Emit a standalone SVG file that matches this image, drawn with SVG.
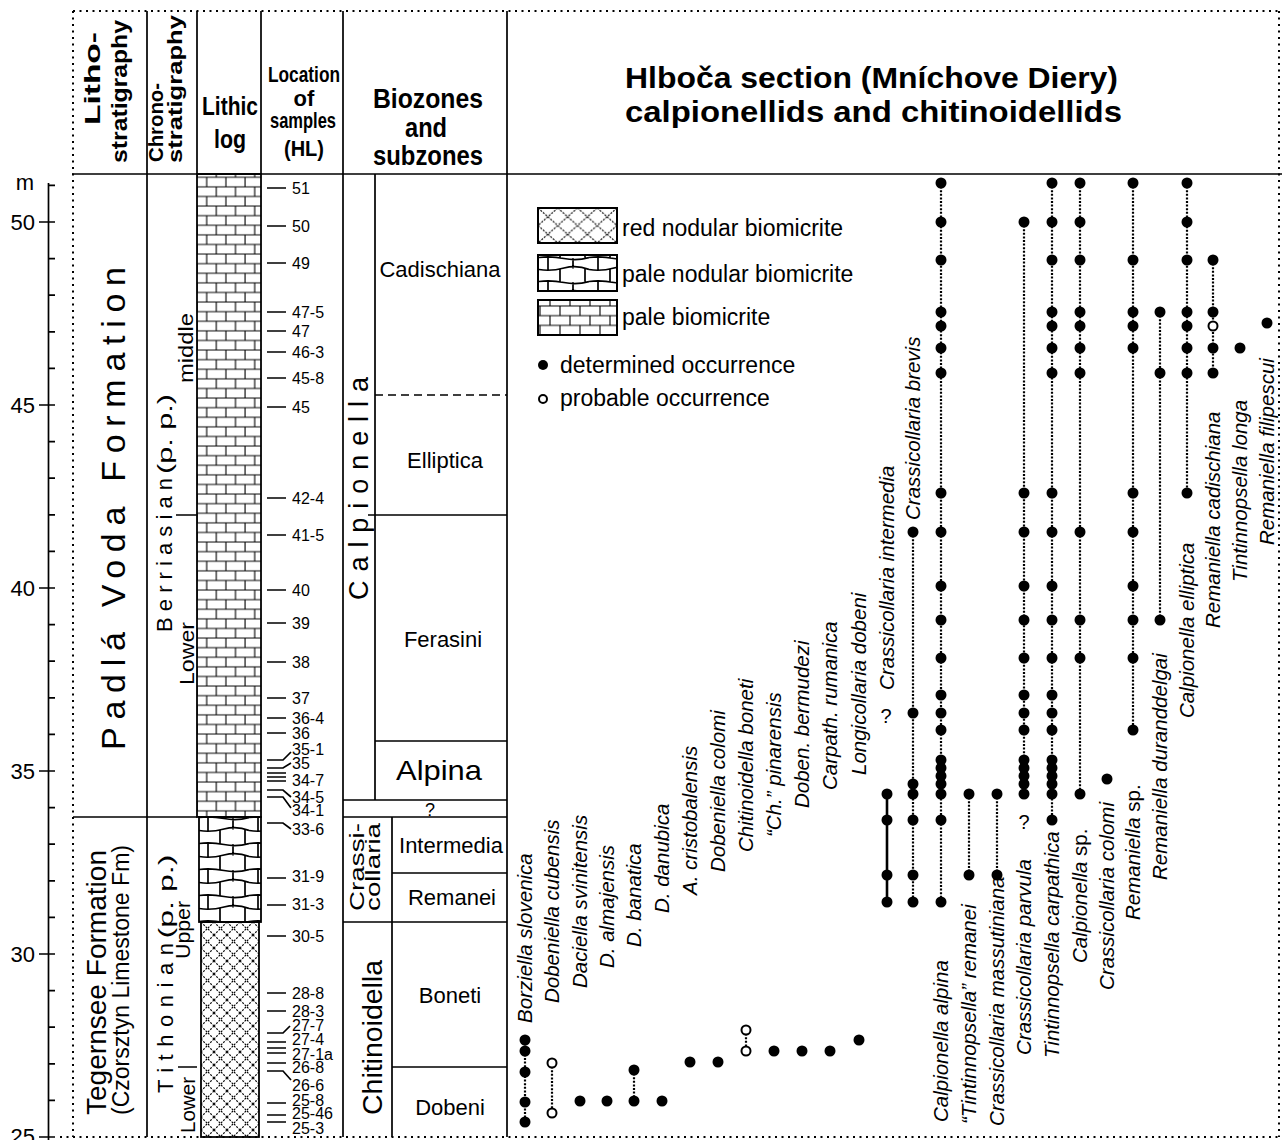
<svg xmlns="http://www.w3.org/2000/svg" width="1282" height="1140" viewBox="0 0 1282 1140">
<style>
text{font-family:"Liberation Sans",Arial,Helvetica,sans-serif;fill:#000}
.b{font-weight:bold}
.n{font-style:normal}
.ln{stroke:#000;stroke-width:1.7;fill:none}
.fr{stroke:#000;stroke-width:2;stroke-dasharray:2 4.5;fill:none}
.oc{stroke:#000;stroke-width:2.2;stroke-dasharray:2 1.6;fill:none}
.os{stroke:#000;stroke-width:2.6;fill:none}
.d{fill:#000}
.o{fill:#fff;stroke:#000;stroke-width:2}
.sp{font-size:20.5px;font-style:italic}
.sm{font-size:16px}
.zn{font-size:22px}
.lg{font-size:23px}
</style>
<defs>
<pattern id="brick" patternUnits="userSpaceOnUse" x="186.5" y="176.3" width="19.2" height="19.2"><path d="M0 1H19.2M0 10.6H19.2M1 1V10.6M10.6 10.6V19.2M10.6 0V1" stroke="#000" stroke-width="1.1" fill="none"/></pattern>
<pattern id="brick2" patternUnits="userSpaceOnUse" x="539" y="305" width="20" height="19.4"><path d="M0 1H20M0 10.7H20M1 1V10.7M11 10.7V19.4M11 0V1" stroke="#000" stroke-width="1.1" fill="none"/></pattern>
<pattern id="nod" patternUnits="userSpaceOnUse" x="199" y="816" width="50" height="26"><path d="M0 1.5Q12 0 25 2.5T50 1.5M0 14.5Q12 16.5 25 13T50 14.5M9 1.8V14.5M34 2.3V13.5M21 14V26M46 14V26M21 0V1.5M46 0V1.5" stroke="#000" stroke-width="1.7" fill="none"/></pattern>
<pattern id="nod2" patternUnits="userSpaceOnUse" x="539" y="256" width="50" height="24"><path d="M0 1.5Q12 0 25 2.5T50 1.5M0 13.5Q12 15.5 25 12T50 13.5M9 1.8V13.5M34 2.3V12.5M21 13V24M46 13V24M21 0V1.5M46 0V1.5" stroke="#000" stroke-width="1.7" fill="none"/></pattern>
<pattern id="xh" patternUnits="userSpaceOnUse" x="201" y="922" width="13" height="13"><path d="M0 0L13 13M13 0L0 13" stroke="#000" stroke-width="1.1" stroke-dasharray="2 1.3" fill="none"/></pattern>
<pattern id="xh2" patternUnits="userSpaceOnUse" x="538" y="208" width="19.75" height="17.5"><path d="M0 0L19.75 17.5M19.75 0L0 17.5" stroke="#000" stroke-width="1.1" stroke-dasharray="2 1.3" fill="none"/></pattern>
</defs>
<rect width="1282" height="1140" fill="#fff"/>

<g id="frame">
<path class="fr" d="M73 11H1280M73 11V1137M1279 11V1137M60 1137H1280"/>
<path class="ln" d="M72 174H1282M147 11V1137M197 11V174M261 11V174M343 11V1137M507 11V1137"/>
</g>

<g id="title">
<text class="b" x="625" y="88" font-size="29" textLength="493" lengthAdjust="spacingAndGlyphs">Hlboča section (Mníchove Diery)</text>
<text class="b" x="625" y="122" font-size="29" textLength="497" lengthAdjust="spacingAndGlyphs">calpionellids and chitinoidellids</text>
</g>

<g id="headers">
<text class="b" font-size="22" text-anchor="middle" transform="translate(100,78.5) rotate(-90)" textLength="93" lengthAdjust="spacingAndGlyphs">Litho-</text>
<text class="b" font-size="22" text-anchor="middle" transform="translate(127,91.5) rotate(-90)" textLength="143" lengthAdjust="spacingAndGlyphs">stratigraphy</text>
<text class="b" font-size="21" text-anchor="middle" transform="translate(163,122.5) rotate(-90)" textLength="79" lengthAdjust="spacingAndGlyphs">Chrono-</text>
<text class="b" font-size="21" text-anchor="middle" transform="translate(182,89) rotate(-90)" textLength="148" lengthAdjust="spacingAndGlyphs">stratigraphy</text>
<text class="b" font-size="25" x="230" y="115" text-anchor="middle" textLength="56" lengthAdjust="spacingAndGlyphs">Lithic</text>
<text class="b" font-size="25" x="230" y="148" text-anchor="middle" textLength="32" lengthAdjust="spacingAndGlyphs">log</text>
<text class="b" font-size="22" x="304" y="82" text-anchor="middle" textLength="72" lengthAdjust="spacingAndGlyphs">Location</text>
<text class="b" font-size="22" x="304" y="106" text-anchor="middle">of</text>
<text class="b" font-size="22" x="303" y="128" text-anchor="middle" textLength="66" lengthAdjust="spacingAndGlyphs">samples</text>
<text class="b" font-size="22" x="304" y="156" text-anchor="middle" textLength="40" lengthAdjust="spacingAndGlyphs">(HL)</text>
<text class="b" font-size="28" x="428" y="108" text-anchor="middle" textLength="110" lengthAdjust="spacingAndGlyphs">Biozones</text>
<text class="b" font-size="28" x="426" y="137" text-anchor="middle" textLength="42" lengthAdjust="spacingAndGlyphs">and</text>
<text class="b" font-size="28" x="428" y="165" text-anchor="middle" textLength="110" lengthAdjust="spacingAndGlyphs">subzones</text>
</g>

<g id="scale">
<path class="ln" d="M48.5 183V1140M48.5 185.4H55"/>
<path class="ln" d="M39 222H55M48.5 258.6H55M48.5 295.2H55M48.5 331.8H55M48.5 368.4H55M39 405H55M48.5 441.6H55M48.5 478.2H55M48.5 514.8H55M48.5 551.4H55M39 588H55M48.5 624.6H55M48.5 661.2H55M48.5 697.8H55M48.5 734.4H55M39 771H55M48.5 807.6H55M48.5 844.2H55M48.5 880.8H55M48.5 917.4H55M39 954H55M48.5 990.6H55M48.5 1027.2H55M48.5 1063.8H55M48.5 1100.4H55M39 1137H55"/>
<text font-size="22" x="34" y="190" text-anchor="end">m</text>
<text font-size="22" x="35" y="230" text-anchor="end">50</text>
<text font-size="22" x="35" y="413" text-anchor="end">45</text>
<text font-size="22" x="35" y="596" text-anchor="end">40</text>
<text font-size="22" x="35" y="779" text-anchor="end">35</text>
<text font-size="22" x="35" y="962" text-anchor="end">30</text>
<text font-size="22" x="35" y="1144" text-anchor="end">25</text>
</g>

<g id="lithostratigraphy">
<path class="ln" d="M73 817H197"/>
<text font-size="34" text-anchor="middle" transform="translate(125,508.5) rotate(-90)" textLength="483" lengthAdjust="spacing">Padlá Voda Formation</text>
<text font-size="27" text-anchor="middle" transform="translate(106,982.5) rotate(-90)" textLength="265" lengthAdjust="spacingAndGlyphs">Tegernsee Formation</text>
<text font-size="23" text-anchor="middle" transform="translate(129,980) rotate(-90)" textLength="270" lengthAdjust="spacingAndGlyphs">(Czorsztyn Limestone Fm)</text>
</g>

<g id="chronostratigraphy">
<path class="ln" d="M176 515H197M178 1067H197"/>
<text font-size="22" text-anchor="middle" transform="translate(172,555) rotate(-90)" textLength="154" lengthAdjust="spacing">Berriasian</text>
<text font-size="21" text-anchor="middle" transform="translate(172,434) rotate(-90)" textLength="80" lengthAdjust="spacingAndGlyphs">(p. p.)</text>
<text font-size="20" text-anchor="middle" transform="translate(193,348) rotate(-90)" textLength="70" lengthAdjust="spacingAndGlyphs">middle</text>
<text font-size="20" text-anchor="middle" transform="translate(194,653.5) rotate(-90)" textLength="63" lengthAdjust="spacingAndGlyphs">Lower</text>
<text font-size="22" text-anchor="middle" transform="translate(173,1018) rotate(-90)" textLength="150" lengthAdjust="spacing">Tithonian</text>
<text font-size="21" text-anchor="middle" transform="translate(173,896.5) rotate(-90)" textLength="84" lengthAdjust="spacingAndGlyphs">(p. p.)</text>
<text font-size="20" text-anchor="middle" transform="translate(190,930) rotate(-90)" textLength="58" lengthAdjust="spacingAndGlyphs">Upper</text>
<text font-size="20" text-anchor="middle" transform="translate(195,1105) rotate(-90)" textLength="56" lengthAdjust="spacingAndGlyphs">Lower</text>
</g>

<g id="lithic-log">
<rect x="197" y="174" width="64" height="643" fill="url(#brick)" stroke="#000" stroke-width="1.8"/>
<rect x="199" y="817" width="62" height="105" fill="url(#nod)" stroke="#000" stroke-width="1.8"/>
<rect x="201" y="922" width="58" height="215" fill="url(#xh)" stroke="#000" stroke-width="1.8"/>
</g>

<g id="samples">
<path class="ln" stroke-width="1.3" d="M267 188H286M267 226H286M267 263H286M267 312H286M267 331H286M267 352H286M267 378H286M267 407H286M267 498H286M267 535H286M267 590H286M267 623H286M267 662H286M267 698H286M267 718H286M267 733H286M267 760H283L291 752M267 768H283L291 763M267 773H286M267 777H286M267 781H286M267 790H283L291 797M267 797H283L291 808M267 823H283L291 829M267 878H286M267 905H286M267 936H286M267 993H286M267 1011H286M267 1033H283L290 1026M267 1042H286M267 1048H286M267 1053H286M267 1063H286M267 1071H283L291 1080M267 1103H286M267 1115H286M267 1122H286"/>
<g class="sm">
<text x="292" y="194">51</text>
<text x="292" y="232">50</text>
<text x="292" y="269">49</text>
<text x="292" y="318">47-5</text>
<text x="292" y="337">47</text>
<text x="292" y="358">46-3</text>
<text x="292" y="384">45-8</text>
<text x="292" y="413">45</text>
<text x="292" y="504">42-4</text>
<text x="292" y="541">41-5</text>
<text x="292" y="596">40</text>
<text x="292" y="629">39</text>
<text x="292" y="668">38</text>
<text x="292" y="704">37</text>
<text x="292" y="724">36-4</text>
<text x="292" y="739">36</text>
<text x="292" y="755">35-1</text>
<text x="292" y="769">35</text>
<text x="292" y="786">34-7</text>
<text x="292" y="803">34-5</text>
<text x="292" y="816">34-1</text>
<text x="292" y="835">33-6</text>
<text x="292" y="882">31-9</text>
<text x="292" y="910">31-3</text>
<text x="292" y="942">30-5</text>
<text x="292" y="999">28-8</text>
<text x="292" y="1017">28-3</text>
<text x="292" y="1031">27-7</text>
<text x="292" y="1045">27-4</text>
<text x="292" y="1060">27-1a</text>
<text x="292" y="1073">26-8</text>
<text x="292" y="1091">26-6</text>
<text x="292" y="1106">25-8</text>
<text x="292" y="1119">25-46</text>
<text x="292" y="1134">25-3</text>
</g>
</g>

<g id="biozones">
<path class="ln" d="M375 174V800M392 817V1137M368 515H507M375 741H507M343 800H507M343 817H507M392 873H507M343 922H507M392 1067H507"/>
<path class="ln" stroke-dasharray="8 5" d="M375 395H507"/>
<text font-size="27" text-anchor="middle" transform="translate(368,488.5) rotate(-90)" textLength="223" lengthAdjust="spacing">Calpionella</text>
<text font-size="20" text-anchor="middle" transform="translate(364,867) rotate(-90)" textLength="88" lengthAdjust="spacingAndGlyphs">Crassi-</text>
<text font-size="20" text-anchor="middle" transform="translate(380,867) rotate(-90)" textLength="88" lengthAdjust="spacingAndGlyphs">collaria</text>
<text font-size="27" text-anchor="middle" transform="translate(382,1037.5) rotate(-90)" textLength="155" lengthAdjust="spacingAndGlyphs">Chitinoidella</text>
<g class="zn" text-anchor="middle">
<text x="440" y="277">Cadischiana</text>
<text x="445" y="468">Elliptica</text>
<text x="443" y="647">Ferasini</text>
<text x="439" y="780" font-size="28" textLength="86" lengthAdjust="spacingAndGlyphs">Alpina</text>
<text x="430" y="816" font-size="18">?</text>
<text x="451" y="853">Intermedia</text>
<text x="452" y="905">Remanei</text>
<text x="450" y="1003">Boneti</text>
<text x="450" y="1115">Dobeni</text>
</g>
</g>

<g id="legend">
<rect x="538" y="208" width="79" height="35" fill="url(#xh2)" stroke="#000" stroke-width="2"/>
<rect x="538" y="255" width="79" height="36" fill="url(#nod2)" stroke="#000" stroke-width="2"/>
<rect x="538" y="300" width="79" height="35" fill="url(#brick2)" stroke="#000" stroke-width="2"/>
<text class="lg" x="622" y="236">red nodular biomicrite</text>
<text class="lg" x="622" y="282">pale nodular biomicrite</text>
<text class="lg" x="622" y="325">pale biomicrite</text>
<circle class="d" cx="543" cy="365" r="5"/>
<circle class="o" cx="543" cy="399" r="4" stroke-width="1.8"/>
<text class="lg" x="560" y="373">determined occurrence</text>
<text class="lg" x="560" y="406">probable occurrence</text>
</g>

<g id="ranges">
<path class="oc" d="M525 1040V1122M552 1063V1113M634 1070V1101M746 1030V1051M913 532V902M941 183V902M969 794V875M997 794V875M1024 222V794M1052 183V820M1080 183V794M1133 183V730M1160 312V620M1187 183V493M1213 260V373"/>
<path class="os" d="M887 794V902"/>
</g>

<g id="chitinoidellids">
<g id="sp-borziella-slovenica"><circle class="d" cx="525" cy="1040" r="5.5"/><circle class="d" cx="525" cy="1051" r="5.5"/><circle class="d" cx="525" cy="1072" r="5.5"/><circle class="d" cx="525" cy="1102" r="5.5"/><circle class="d" cx="525" cy="1122" r="5.5"/><text class="sp" transform="translate(532,1023) rotate(-90)">Borziella slovenica</text></g>
<g id="sp-dobeniella-cubensis"><circle class="o" cx="552" cy="1063" r="4.5"/><circle class="o" cx="552" cy="1113" r="4.5"/><text class="sp" transform="translate(559,1003) rotate(-90)">Dobeniella cubensis</text></g>
<g id="sp-daciella-svinitensis"><circle class="d" cx="580" cy="1101" r="5.5"/><text class="sp" transform="translate(587,988) rotate(-90)">Daciella svinitensis</text></g>
<g id="sp-d-almajensis"><circle class="d" cx="607" cy="1101" r="5.5"/><text class="sp" transform="translate(614,968) rotate(-90)">D. almajensis</text></g>
<g id="sp-d-banatica"><circle class="d" cx="634" cy="1070" r="5.5"/><circle class="d" cx="634" cy="1101" r="5.5"/><text class="sp" transform="translate(641,947) rotate(-90)">D. banatica</text></g>
<g id="sp-d-danubica"><circle class="d" cx="662" cy="1101" r="5.5"/><text class="sp" transform="translate(669,913) rotate(-90)">D. danubica</text></g>
<g id="sp-a-cristobalensis"><circle class="d" cx="690" cy="1062" r="5.5"/><text class="sp" transform="translate(697,895) rotate(-90)">A. cristobalensis</text></g>
<g id="sp-dobeniella-colomi"><circle class="d" cx="718" cy="1062" r="5.5"/><text class="sp" transform="translate(725,872) rotate(-90)">Dobeniella colomi</text></g>
<g id="sp-chitinoidella-boneti"><circle class="o" cx="746" cy="1030" r="4.5"/><circle class="o" cx="746" cy="1051" r="4.5"/><text class="sp" transform="translate(753,852) rotate(-90)">Chitinoidella boneti</text></g>
<g id="sp-ch-pinarensis"><circle class="d" cx="774" cy="1051" r="5.5"/><text class="sp" transform="translate(781,837) rotate(-90)">“Ch.” pinarensis</text></g>
<g id="sp-doben-bermudezi"><circle class="d" cx="802" cy="1051" r="5.5"/><text class="sp" transform="translate(809,808) rotate(-90)">Doben. bermudezi</text></g>
<g id="sp-carpath-rumanica"><circle class="d" cx="830" cy="1051" r="5.5"/><text class="sp" transform="translate(837,790) rotate(-90)">Carpath. rumanica</text></g>
<g id="sp-longicollaria-dobeni"><circle class="d" cx="859" cy="1040" r="5.5"/><text class="sp" transform="translate(866,775) rotate(-90)">Longicollaria dobeni</text></g>
</g>

<g id="calpionellids">
<g id="sp-crassicollaria-intermedia"><circle class="d" cx="887" cy="794" r="5.5"/><circle class="d" cx="887" cy="820" r="5.5"/><circle class="d" cx="887" cy="875" r="5.5"/><circle class="d" cx="887" cy="902" r="5.5"/><text x="886" y="723" font-size="20" text-anchor="middle">?</text><text class="sp" transform="translate(894,690) rotate(-90)">Crassicollaria intermedia</text></g>
<g id="sp-crassicollaria-brevis"><circle class="d" cx="913" cy="532" r="5.5"/><circle class="d" cx="913" cy="713" r="5.5"/><circle class="d" cx="913" cy="784" r="5.5"/><circle class="d" cx="913" cy="794" r="5.5"/><circle class="d" cx="913" cy="820" r="5.5"/><circle class="d" cx="913" cy="875" r="5.5"/><circle class="d" cx="913" cy="902" r="5.5"/><text class="sp" transform="translate(920,520) rotate(-90)">Crassicollaria brevis</text></g>
<g id="sp-calpionella-alpina"><circle class="d" cx="941" cy="183" r="5.5"/><circle class="d" cx="941" cy="222" r="5.5"/><circle class="d" cx="941" cy="260" r="5.5"/><circle class="d" cx="941" cy="312" r="5.5"/><circle class="d" cx="941" cy="326" r="5.5"/><circle class="d" cx="941" cy="348" r="5.5"/><circle class="d" cx="941" cy="373" r="5.5"/><circle class="d" cx="941" cy="493" r="5.5"/><circle class="d" cx="941" cy="532" r="5.5"/><circle class="d" cx="941" cy="586" r="5.5"/><circle class="d" cx="941" cy="620" r="5.5"/><circle class="d" cx="941" cy="658" r="5.5"/><circle class="d" cx="941" cy="695" r="5.5"/><circle class="d" cx="941" cy="713" r="5.5"/><circle class="d" cx="941" cy="730" r="5.5"/><circle class="d" cx="941" cy="760" r="5.5"/><circle class="d" cx="941" cy="768" r="5.5"/><circle class="d" cx="941" cy="776" r="5.5"/><circle class="d" cx="941" cy="784" r="5.5"/><circle class="d" cx="941" cy="794" r="5.5"/><circle class="d" cx="941" cy="820" r="5.5"/><circle class="d" cx="941" cy="902" r="5.5"/><text class="sp" transform="translate(948,1122) rotate(-90)">Calpionella alpina</text></g>
<g id="sp-tintinnopsella-remanei"><circle class="d" cx="969" cy="794" r="5.5"/><circle class="d" cx="969" cy="875" r="5.5"/><text class="sp" transform="translate(976,1124) rotate(-90)">“Tintinnopsella” remanei</text></g>
<g id="sp-crassicollaria-massutiniana"><circle class="d" cx="997" cy="794" r="5.5"/><circle class="d" cx="997" cy="875" r="5.5"/><text class="sp" transform="translate(1004,1126) rotate(-90)">Crassicollaria massutiniana</text></g>
<g id="sp-crassicollaria-parvula"><circle class="d" cx="1024" cy="222" r="5.5"/><circle class="d" cx="1024" cy="493" r="5.5"/><circle class="d" cx="1024" cy="532" r="5.5"/><circle class="d" cx="1024" cy="586" r="5.5"/><circle class="d" cx="1024" cy="620" r="5.5"/><circle class="d" cx="1024" cy="658" r="5.5"/><circle class="d" cx="1024" cy="695" r="5.5"/><circle class="d" cx="1024" cy="713" r="5.5"/><circle class="d" cx="1024" cy="730" r="5.5"/><circle class="d" cx="1024" cy="760" r="5.5"/><circle class="d" cx="1024" cy="768" r="5.5"/><circle class="d" cx="1024" cy="776" r="5.5"/><circle class="d" cx="1024" cy="784" r="5.5"/><circle class="d" cx="1024" cy="794" r="5.5"/><text x="1024" y="829" font-size="20" text-anchor="middle">?</text><text class="sp" transform="translate(1031,1055) rotate(-90)">Crassicollaria parvula</text></g>
<g id="sp-tintinnopsella-carpathica"><circle class="d" cx="1052" cy="183" r="5.5"/><circle class="d" cx="1052" cy="222" r="5.5"/><circle class="d" cx="1052" cy="260" r="5.5"/><circle class="d" cx="1052" cy="312" r="5.5"/><circle class="d" cx="1052" cy="326" r="5.5"/><circle class="d" cx="1052" cy="348" r="5.5"/><circle class="d" cx="1052" cy="373" r="5.5"/><circle class="d" cx="1052" cy="493" r="5.5"/><circle class="d" cx="1052" cy="532" r="5.5"/><circle class="d" cx="1052" cy="586" r="5.5"/><circle class="d" cx="1052" cy="620" r="5.5"/><circle class="d" cx="1052" cy="658" r="5.5"/><circle class="d" cx="1052" cy="695" r="5.5"/><circle class="d" cx="1052" cy="713" r="5.5"/><circle class="d" cx="1052" cy="730" r="5.5"/><circle class="d" cx="1052" cy="760" r="5.5"/><circle class="d" cx="1052" cy="768" r="5.5"/><circle class="d" cx="1052" cy="776" r="5.5"/><circle class="d" cx="1052" cy="784" r="5.5"/><circle class="d" cx="1052" cy="794" r="5.5"/><circle class="d" cx="1052" cy="820" r="5.5"/><text class="sp" transform="translate(1059,1058) rotate(-90)">Tintinnopsella carpathica</text></g>
<g id="sp-calpionella-sp"><circle class="d" cx="1080" cy="183" r="5.5"/><circle class="d" cx="1080" cy="222" r="5.5"/><circle class="d" cx="1080" cy="260" r="5.5"/><circle class="d" cx="1080" cy="312" r="5.5"/><circle class="d" cx="1080" cy="326" r="5.5"/><circle class="d" cx="1080" cy="348" r="5.5"/><circle class="d" cx="1080" cy="373" r="5.5"/><circle class="d" cx="1080" cy="532" r="5.5"/><circle class="d" cx="1080" cy="620" r="5.5"/><circle class="d" cx="1080" cy="658" r="5.5"/><circle class="d" cx="1080" cy="794" r="5.5"/><text class="sp" transform="translate(1087,963) rotate(-90)">Calpionella <tspan class="n">sp.</tspan></text></g>
<g id="sp-crassicollaria-colomi"><circle class="d" cx="1107" cy="779" r="5.5"/><text class="sp" transform="translate(1114,990) rotate(-90)">Crassicollaria colomi</text></g>
<g id="sp-remaniella-sp"><circle class="d" cx="1133" cy="183" r="5.5"/><circle class="d" cx="1133" cy="260" r="5.5"/><circle class="d" cx="1133" cy="312" r="5.5"/><circle class="d" cx="1133" cy="326" r="5.5"/><circle class="d" cx="1133" cy="348" r="5.5"/><circle class="d" cx="1133" cy="493" r="5.5"/><circle class="d" cx="1133" cy="532" r="5.5"/><circle class="d" cx="1133" cy="586" r="5.5"/><circle class="d" cx="1133" cy="620" r="5.5"/><circle class="d" cx="1133" cy="658" r="5.5"/><circle class="d" cx="1133" cy="730" r="5.5"/><text class="sp" transform="translate(1140,920) rotate(-90)">Remaniella <tspan class="n">sp.</tspan></text></g>
<g id="sp-remaniella-duranddelgai"><circle class="d" cx="1160" cy="312" r="5.5"/><circle class="d" cx="1160" cy="373" r="5.5"/><circle class="d" cx="1160" cy="620" r="5.5"/><text class="sp" transform="translate(1167,880) rotate(-90)">Remaniella duranddelgai</text></g>
<g id="sp-calpionella-elliptica"><circle class="d" cx="1187" cy="183" r="5.5"/><circle class="d" cx="1187" cy="222" r="5.5"/><circle class="d" cx="1187" cy="260" r="5.5"/><circle class="d" cx="1187" cy="312" r="5.5"/><circle class="d" cx="1187" cy="326" r="5.5"/><circle class="d" cx="1187" cy="348" r="5.5"/><circle class="d" cx="1187" cy="373" r="5.5"/><circle class="d" cx="1187" cy="493" r="5.5"/><text class="sp" transform="translate(1194,718) rotate(-90)">Calpionella elliptica</text></g>
<g id="sp-remaniella-cadischiana"><circle class="d" cx="1213" cy="260" r="5.5"/><circle class="d" cx="1213" cy="312" r="5.5"/><circle class="o" cx="1213" cy="326" r="4.5"/><circle class="d" cx="1213" cy="348" r="5.5"/><circle class="d" cx="1213" cy="373" r="5.5"/><text class="sp" transform="translate(1220,628) rotate(-90)">Remaniella cadischiana</text></g>
<g id="sp-tintinnopsella-longa"><circle class="d" cx="1240" cy="348" r="5.5"/><text class="sp" transform="translate(1247,582) rotate(-90)">Tintinnopsella longa</text></g>
<g id="sp-remaniella-filipescui"><circle class="d" cx="1267" cy="323" r="5.5"/><text class="sp" transform="translate(1274,545) rotate(-90)">Remaniella filipescui</text></g>
</g>
</svg>
